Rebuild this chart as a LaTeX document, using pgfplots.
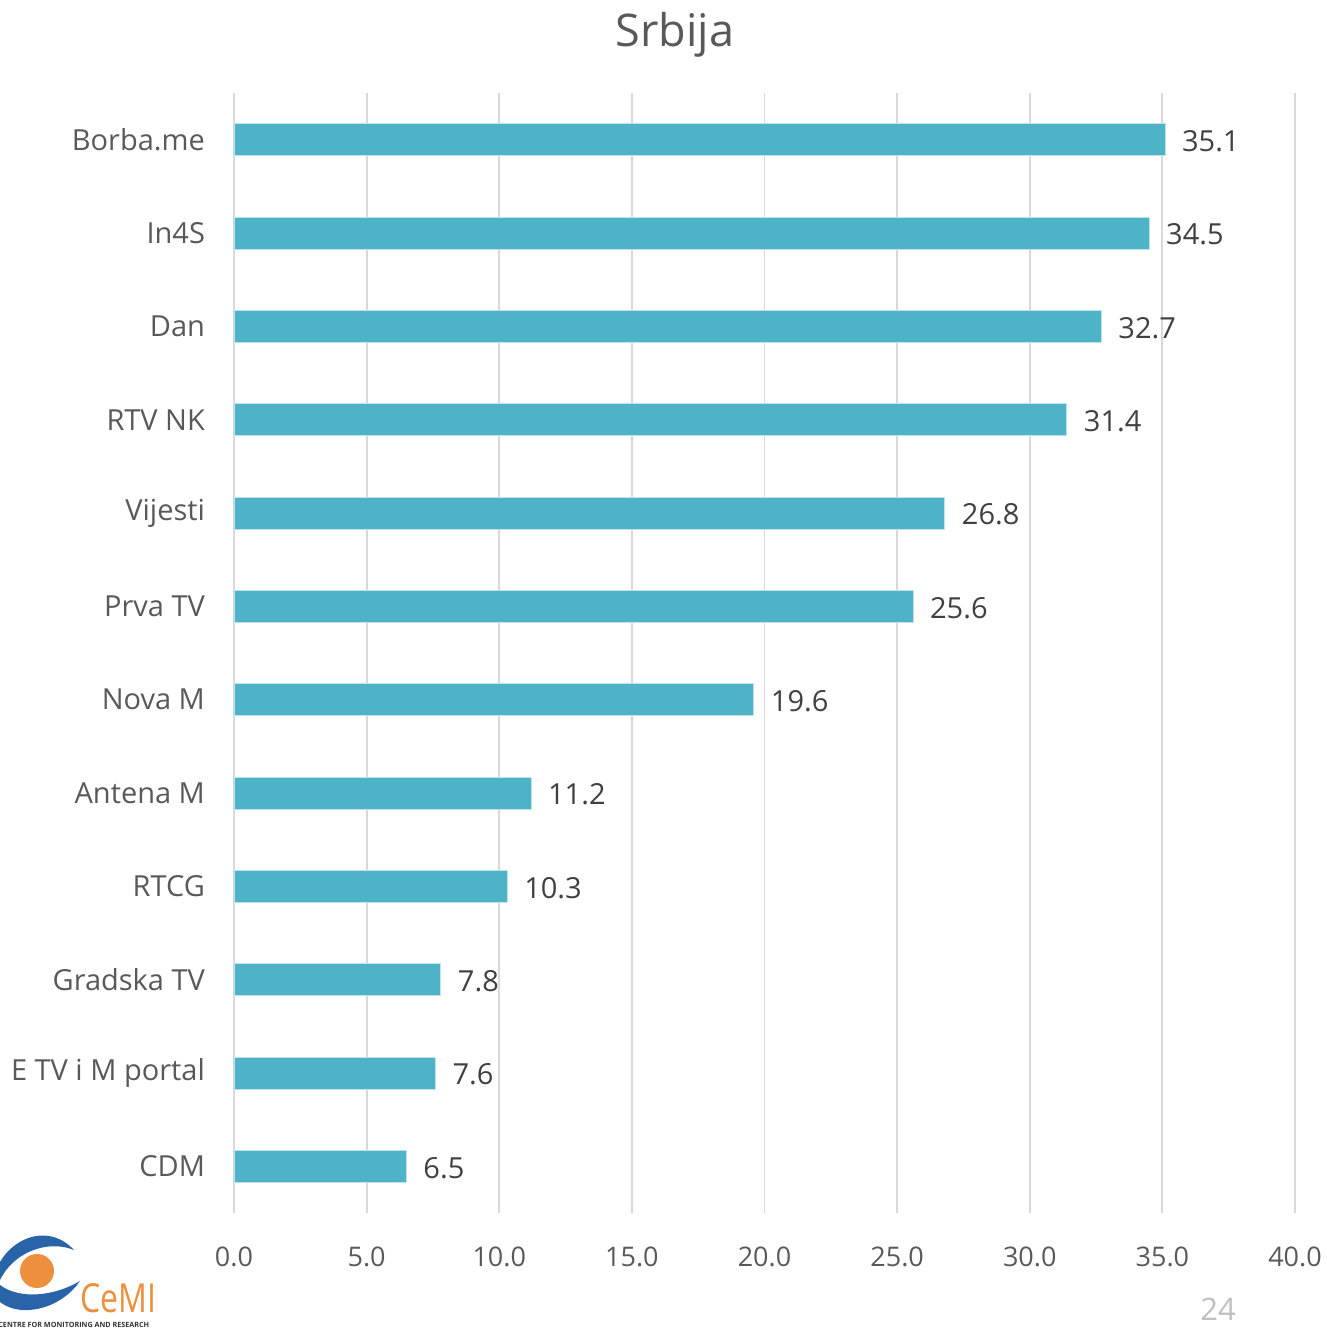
\documentclass[border=0pt]{standalone}
\usepackage{pgfplots}
\pgfplotsset{compat=1.18}
\usepackage{fontspec}
\setmainfont{Open Sans}
\definecolor{barc}{HTML}{4FB3C8}
\definecolor{barline}{HTML}{BFE3EC}
\definecolor{txt}{HTML}{595959}
\definecolor{txtd}{HTML}{404040}
\definecolor{grd}{HTML}{D9D9D9}
\definecolor{logoblue}{HTML}{2A64A8}
\definecolor{logoorange}{HTML}{EE8F3D}
\begin{document}
\begin{tikzpicture}
\path[use as bounding box] (0,0) rectangle (663.5pt,664pt);
\begin{axis}[
  at={(117pt,57.5pt)}, anchor=south west,
  scale only axis, width=530.5pt, height=560pt,
  xbar, bar width=16pt,
  xmin=0, xmax=40, ymin=-0.5, ymax=11.5, y dir=reverse,
  xtick={0,5,...,40}, ytick={0,...,11},
  yticklabels={Borba.me,In4S,Dan,RTV NK,Vijesti,Prva TV,Nova M,Antena M,RTCG,Gradska TV,E TV i M portal,CDM},
  xmajorgrids, grid style={grd, line width=0.9pt},
  axis line style={draw=none}, major tick length=0pt,
  tick label style={text=txt},
  xticklabel style={font=\fontsize{13.5}{16}\selectfont, yshift=-13.5pt},
  yticklabel style={font=\fontsize{14.5}{17}\selectfont, xshift=-11pt},
  /pgf/number format/fixed, /pgf/number format/fixed zerofill,
  /pgf/number format/precision=1, /pgf/number format/assume math mode=true,
  nodes near coords,
  nodes near coords style={anchor=west, font=\fontsize{14.5}{17}\selectfont, text=txtd, xshift=5pt, yshift=-0.8pt},
  clip=false,
]
\addplot[fill=barc, draw=barline, line width=0.4pt] coordinates {
  (35.1,0) (34.5,1) (32.7,2) (31.4,3) (26.8,4) (25.6,5)
  (19.6,6) (11.2,7) (10.3,8) (7.8,9) (7.6,10) (6.5,11)
};
\end{axis}
% title
\node[anchor=base, font=\fontsize{22.5}{26}\selectfont, text=txt] at (337.5pt,640.5pt) {Srbija};
% page number
\node[anchor=base, font=\fontsize{15.5}{18}\selectfont, text={rgb,255:red,191;green,191;blue,191}] at (609pt,4pt) {24};
% logo
\begin{scope}[x=0.5pt, y=-0.5pt, shift={(0pt,664pt)}]
  \fill[logoblue] (0,1262) .. controls (15,1236) and (50,1224) .. (74,1250) .. controls (50,1240) and (15,1250) .. (0,1280) -- cycle;
  \fill[logoblue] (0,1285) .. controls (20,1300) and (55,1296) .. (80,1281) .. controls (60,1310) and (20,1318) .. (0,1302) -- cycle;
  \fill[logoorange] (37,1271) circle (17);
  \node[anchor=base west, inner sep=0, text=logoorange, font=\fontsize{20}{20}\selectfont, xscale=0.8] at (80,1312) {CeMI};
  \node[anchor=base west, inner sep=0, text=black!80, font=\bfseries\fontsize{3.6}{4}\selectfont] at (-2,1327) {CENTRE FOR MONITORING AND RESEARCH};
\end{scope}
\end{tikzpicture}
\end{document}
